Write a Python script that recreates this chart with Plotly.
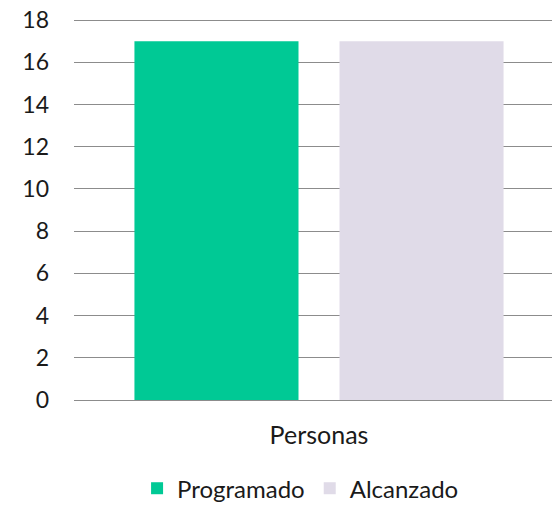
import plotly.graph_objects as go

categories = ["Personas"]
programado = [17]
alcanzado = [17]
y_ticks = [0, 2, 4, 6, 8, 10, 12, 14, 16, 18]

fig = go.Figure()

fig.add_trace(go.Bar(
    x=categories, y=programado, name="Programado",
    marker=dict(color="#00C995", line=dict(width=0))
))
fig.add_trace(go.Bar(
    x=categories, y=alcanzado, name="Alcanzado",
    marker=dict(color="#E0DBE8", line=dict(width=0))
))

fig.update_layout(
    width=552, height=505,
    margin=dict(l=74, r=0, t=18, b=105, autoexpand=False),
    paper_bgcolor="white", plot_bgcolor="white",
    font=dict(family="Lato, Open Sans, sans-serif", size=23, color="#1a1a1a"),
    barmode="group", bargap=0.163, bargroupgap=0.2,
    showlegend=True,
    legend=dict(
        orientation="h", x=0.474, xanchor="center", y=-0.232, yanchor="middle",
        font=dict(size=24), itemwidth=30, traceorder="normal",
        tracegroupgap=0
    ),
    xaxis=dict(
        type="category", range=[-0.5, 0.4755], showgrid=False,
        showline=False, ticks="", ticklabelstandoff=18, automargin=False,
        tickfont=dict(size=25)
    ),
    yaxis=dict(
        range=[0, 18.1], tickvals=y_ticks, showgrid=True,
        gridcolor="#8C8C8C", gridwidth=1, zeroline=True,
        zerolinecolor="#8C8C8C", zerolinewidth=1, showline=False,
        ticks="", ticklabelstandoff=24, automargin=False
    ),
)

fig.write_html("out.html", config={"displayModeBar": False},
               post_script="document.body.style.margin='0';")
